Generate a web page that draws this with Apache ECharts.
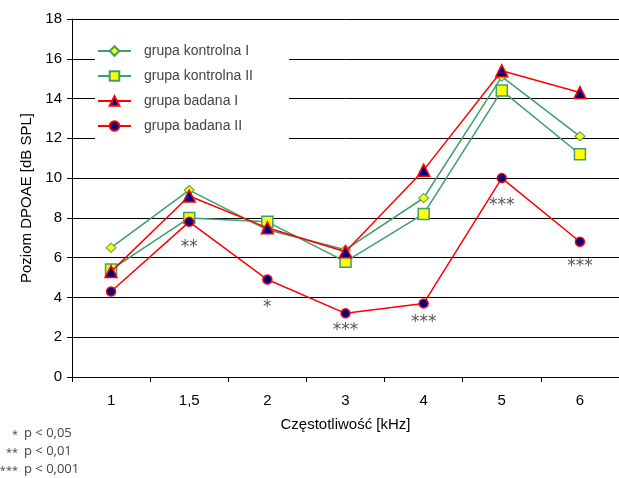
<!DOCTYPE html>
<html>
<head>
<meta charset="utf-8">
<script src="https://cdn.jsdelivr.net/npm/echarts@6/dist/echarts.min.js"></script>
<style>
  html, body { margin: 0; padding: 0; background: #fff; }
  #chart { width: 619px; height: 478px; }
</style>
</head>
<body>
<div id="chart"></div>
<script>
const categories = ['1', '1,5', '2', '3', '4', '5', '6'];
const kontrolnaI = [6.5, 9.4, 7.4, 6.4, 9.0, 15.1, 12.1];
const kontrolnaII = [5.4, 8.0, 7.8, 5.8, 8.2, 14.4, 11.2];
const badanaI = [5.3, 9.1, 7.5, 6.3, 10.4, 15.4, 14.3];
const badanaII = [4.3, 7.8, 4.9, 3.2, 3.7, 10.0, 6.8];
const stars = ['', '**', '*', '***', '***', '***', '***'];
const yTicks = [0, 18, 2];

// distance of the star labels below the badana II points
const starGap = [0, 12, 14, 3, 5, 14, 11];

const green = '#3d9e6e';
const red = '#ff0000';
const navy = '#000080';
const yellow = '#ffff00';

const chart = echarts.init(document.getElementById('chart'));

const option = {
  animation: false,
  grid: { left: 72, top: 19, width: 548, height: 358 },
  legend: {
    left: 95,
    top: 38,
    orient: 'vertical',
    backgroundColor: '#fff',
    padding: [6, 36, 8, 2],
    itemWidth: 33,
    itemHeight: 12,
    itemGap: 11,
    textStyle: { fontFamily: 'Liberation Sans Narrow, Arial Narrow, sans-serif', fontSize: 14, color: '#444', padding: [0, 0, 0, 8] },
    data: ['grupa kontrolna I', 'grupa kontrolna II', 'grupa badana I', 'grupa badana II']
  },
  xAxis: {
    type: 'category',
    data: categories,
    boundaryGap: true,
    name: 'Częstotliwość [kHz]',
    nameLocation: 'middle',
    nameGap: 40,
    nameTextStyle: { fontFamily: 'Liberation Sans, Arial, sans-serif', fontSize: 15, color: '#000' },
    axisLine: { lineStyle: { color: '#000', width: 1 } },
    axisTick: { show: true, length: 5, lineStyle: { color: '#000' } },
    axisLabel: { fontFamily: 'Liberation Sans, Arial, sans-serif', fontSize: 15, color: '#000', margin: 16 }
  },
  yAxis: {
    type: 'value',
    min: yTicks[0],
    max: yTicks[1],
    interval: yTicks[2],
    name: 'Poziom DPOAE [dB SPL]',
    nameLocation: 'middle',
    nameGap: 38,
    nameTextStyle: { fontFamily: 'Liberation Sans, Arial, sans-serif', fontSize: 15, color: '#000' },
    axisLine: { show: true, lineStyle: { color: '#000', width: 1 } },
    axisTick: { show: true, length: 5, lineStyle: { color: '#000' } },
    axisLabel: { fontFamily: 'Liberation Sans, Arial, sans-serif', fontSize: 15, color: '#000', margin: 10 },
    splitLine: { show: true, lineStyle: { color: '#000', width: 1 } }
  },
  series: [
    {
      name: 'grupa kontrolna I',
      type: 'line',
      data: kontrolnaI,
      symbol: 'diamond',
      symbolSize: [10, 9],
      z: 3,
      lineStyle: { color: green, width: 1.5 },
      itemStyle: { color: yellow, borderColor: green, borderWidth: 1 }
    },
    {
      name: 'grupa kontrolna II',
      type: 'line',
      data: kontrolnaII,
      symbol: 'rect',
      symbolSize: 11,
      z: 2,
      lineStyle: { color: green, width: 1.5 },
      itemStyle: { color: yellow, borderColor: green, borderWidth: 1.5 }
    },
    {
      name: 'grupa badana I',
      type: 'line',
      data: badanaI,
      symbol: 'triangle',
      symbolSize: 12,
      z: 4,
      lineStyle: { color: red, width: 1.5 },
      itemStyle: { color: navy, borderColor: red, borderWidth: 1.5 }
    },
    {
      name: 'grupa badana II',
      type: 'line',
      data: badanaII.map((v, i) => ({
        value: v,
        label: {
          show: stars[i] !== '',
          formatter: stars[i],
          position: 'bottom',
          distance: starGap[i]
        }
      })),
      symbol: 'circle',
      symbolSize: 9,
      z: 5,
      lineStyle: { color: red, width: 1.5 },
      itemStyle: { color: navy, borderColor: red, borderWidth: 1.5 },
      label: {
        fontFamily: 'DejaVu Sans, sans-serif',
        fontSize: 17,
        color: '#555'
      }
    }
  ],
  graphic: [
    {
      type: 'text', x: 18, y: 426,
      style: { text: '*\n**\n***', fontFamily: 'Open Sans, sans-serif', fontSize: 11, lineHeight: 18, fill: '#444', align: 'right' }
    },
    {
      type: 'text', x: 24, y: 424,
      style: { text: 'p < 0,05\np < 0,01\np < 0,001', fontFamily: 'Open Sans, sans-serif', fontSize: 13, lineHeight: 18, fill: '#444' }
    }
  ]
};

chart.setOption(option);
</script>
</body>
</html>
